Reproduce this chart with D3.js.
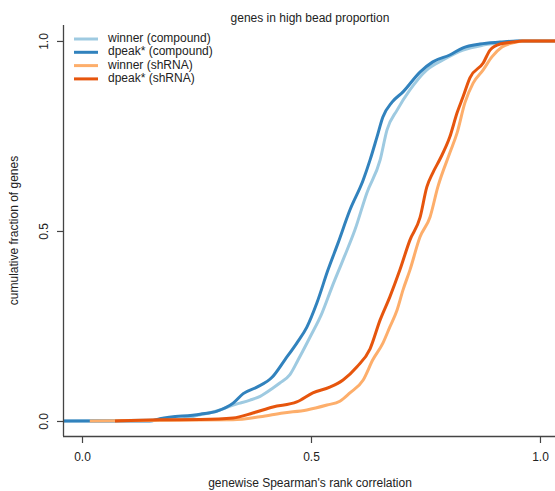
<!DOCTYPE html>
<html>
<head>
<meta charset="utf-8">
<script src="https://cdn.jsdelivr.net/npm/d3@7"></script>
<style>
  body { margin: 0; background: #fff; }
  text { font-family: "Liberation Sans", Arial, Helvetica, sans-serif; fill: #222; }
</style>
</head>
<body>
<svg id="chart" width="555" height="491"></svg>
<script>
// series names and colours (legend order = draw order)
const seriesNames = ["winner (compound)", "dpeak* (compound)", "winner (shRNA)", "dpeak* (shRNA)"];
const seriesColors = ["#9ecae1", "#3182bd", "#fdae6b", "#e6550d"];

// cumulative curves: [correlation, cumulative fraction]
const winnerCompound = [
  [-0.041, 0], [0.200, 0.003], [0.258, 0.016], [0.301, 0.029], [0.330, 0.042], [0.345, 0.047],
  [0.367, 0.055], [0.389, 0.065], [0.417, 0.087], [0.432, 0.100], [0.454, 0.122], [0.472, 0.161],
  [0.498, 0.221], [0.524, 0.284], [0.546, 0.353], [0.570, 0.424], [0.596, 0.503], [0.622, 0.600],
  [0.651, 0.687], [0.666, 0.766], [0.688, 0.818], [0.716, 0.871], [0.753, 0.924], [0.788, 0.950],
  [0.832, 0.976], [0.876, 0.989], [0.928, 0.997], [0.956, 1.0], [1.05, 1.0]
];
const dpeakCompound = [
  [-0.041, 0], [0.148, 0.0], [0.170, 0.006], [0.258, 0.018], [0.295, 0.026], [0.330, 0.047],
  [0.352, 0.072], [0.382, 0.089], [0.415, 0.115], [0.443, 0.161], [0.469, 0.205], [0.491, 0.247],
  [0.513, 0.311], [0.537, 0.397], [0.559, 0.468], [0.585, 0.555], [0.614, 0.634], [0.629, 0.687],
  [0.644, 0.747], [0.657, 0.800], [0.677, 0.839], [0.701, 0.866], [0.738, 0.918], [0.766, 0.945],
  [0.803, 0.963], [0.832, 0.982], [0.869, 0.992], [0.913, 0.997], [0.950, 1.0], [1.05, 1.0]
];
const winnerShRNA = [
  [0.017, 0], [0.200, 0.002], [0.330, 0.003], [0.389, 0.011], [0.439, 0.021], [0.491, 0.029],
  [0.535, 0.042], [0.563, 0.052], [0.585, 0.074], [0.614, 0.108], [0.635, 0.161], [0.657, 0.205],
  [0.672, 0.247], [0.688, 0.292], [0.701, 0.345], [0.716, 0.397], [0.738, 0.484], [0.760, 0.537],
  [0.777, 0.616], [0.803, 0.705], [0.819, 0.758], [0.836, 0.837], [0.854, 0.889], [0.876, 0.924],
  [0.895, 0.958], [0.917, 0.984], [0.941, 0.995], [0.963, 1.0], [1.05, 1.0]
];
const dpeakShRNA = [
  [0.072, 0], [0.170, 0.003], [0.258, 0.004], [0.330, 0.008], [0.373, 0.021], [0.417, 0.037],
  [0.469, 0.050], [0.504, 0.074], [0.541, 0.089], [0.570, 0.108], [0.600, 0.142], [0.629, 0.190],
  [0.651, 0.266], [0.672, 0.326], [0.694, 0.397], [0.716, 0.476], [0.738, 0.535], [0.753, 0.616],
  [0.766, 0.653], [0.782, 0.690], [0.803, 0.747], [0.819, 0.811], [0.832, 0.853], [0.847, 0.903],
  [0.876, 0.942], [0.891, 0.976], [0.913, 0.992], [0.941, 0.997], [0.961, 1.0], [1.05, 1.0]
];
const curves = [winnerCompound, dpeakCompound, winnerShRNA, dpeakShRNA];

const xTicks = [0, 0.5, 1];
const yTicks = [0, 0.5, 1];

const svg = d3.select("#chart");

const plotLeft = 63, plotRight = 555, plotTop = 25, plotBottom = 436;

const x = d3.scaleLinear().domain([-0.0415, 1.0328]).range([plotLeft, plotRight]);
const y = d3.scaleLinear().domain([-0.0395, 1.042]).range([plotBottom, plotTop]);

svg.append("clipPath").attr("id", "plotClip")
   .append("rect")
   .attr("x", plotLeft).attr("y", plotTop)
   .attr("width", plotRight - plotLeft).attr("height", plotBottom - plotTop);

// curves
const line = d3.line().x(d => x(d[0])).y(d => y(d[1])).curve(d3.curveMonotoneX);

svg.append("g")
   .attr("clip-path", "url(#plotClip)")
   .selectAll("path")
   .data(curves)
   .join("path")
   .attr("d", line)
   .attr("fill", "none")
   .attr("stroke", (d, i) => seriesColors[i])
   .attr("stroke-width", 3)
   .attr("stroke-linejoin", "round");

// axes, L shaped frame
const xAxis = svg.append("g")
   .attr("transform", `translate(0,${plotBottom})`)
   .call(d3.axisBottom(x).tickValues(xTicks).tickFormat(d3.format(".1f")).tickSize(7).tickPadding(9));
xAxis.select(".domain").attr("d", `M${plotLeft},0.5H${plotRight}`);

const yAxis = svg.append("g")
   .attr("transform", `translate(${plotLeft},0)`)
   .call(d3.axisLeft(y).tickValues(yTicks).tickFormat(d3.format(".1f")).tickSize(6));
yAxis.select(".domain").attr("d", `M0.5,${plotTop}V${plotBottom}`);

[xAxis, yAxis].forEach(g => {
  g.selectAll(".domain").attr("stroke", "#444").attr("stroke-width", 1.3);
  g.selectAll(".tick line").attr("stroke", "#444").attr("stroke-width", 1.2);
  g.selectAll("text").attr("font-size", 12).attr("fill", "#222")
   .style("font-family", "'Liberation Sans', Arial, sans-serif");
});

// y tick labels rotated like the base R plot
yAxis.selectAll(".tick text")
     .attr("x", null)
     .attr("text-anchor", "middle")
     .attr("transform", "translate(-19,0) rotate(-90)")
     .attr("dy", "0.35em");

// titles
svg.append("text")
   .attr("x", 310).attr("y", 19)
   .attr("text-anchor", "middle")
   .attr("dominant-baseline", "middle")
   .attr("font-size", 12)
   .text("genes in high bead proportion");

svg.append("text")
   .attr("x", 310).attr("y", 484)
   .attr("text-anchor", "middle")
   .attr("dominant-baseline", "middle")
   .attr("font-size", 12)
   .text("genewise Spearman's rank correlation");

svg.append("text")
   .attr("transform", `translate(15,${(plotTop + plotBottom) / 2}) rotate(-90)`)
   .attr("text-anchor", "middle")
   .attr("dominant-baseline", "middle")
   .attr("font-size", 12)
   .text("cumulative fraction of genes");

// legend
const legend = svg.append("g").selectAll("g")
   .data(seriesNames)
   .join("g")
   .attr("transform", (d, i) => `translate(74,${39 + i * 13.3})`);

legend.append("line")
   .attr("x1", 0).attr("x2", 24)
   .attr("stroke", (d, i) => seriesColors[i])
   .attr("stroke-width", 3);

legend.append("text")
   .attr("x", 34)
   .attr("dominant-baseline", "middle")
   .attr("font-size", 12)
   .text(d => d);
</script>
</body>
</html>
